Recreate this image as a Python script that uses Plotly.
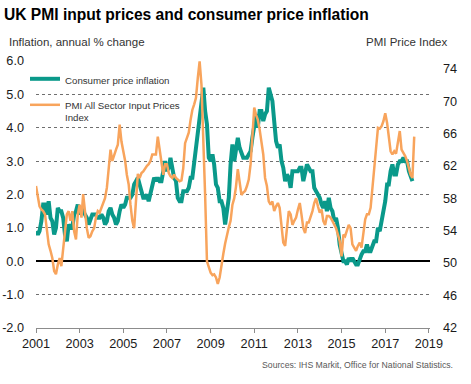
import pandas as pd
import plotly.graph_objects as go

# ---------------- data ----------------
start_month = "2001-01-01"

# UK CPI inflation, annual % change (monthly, Jan 2001 - Apr 2018)
cpi_inflation = [
    0.9, 0.8, 0.9, 1.2, 1.7, 1.7, 1.4, 1.8, 1.3, 1.2, 0.8, 1.0,   # 2001
    1.6, 1.5, 1.5, 1.3, 0.8, 0.6, 1.1, 1.0, 1.0, 1.4, 1.5, 1.7,   # 2002
    1.4, 1.6, 1.5, 1.4, 1.3, 1.1, 1.3, 1.4, 1.4, 1.4, 1.3, 1.3,   # 2003
    1.4, 1.3, 1.1, 1.2, 1.5, 1.6, 1.4, 1.3, 1.1, 1.2, 1.5, 1.7,   # 2004
    1.6, 1.7, 1.9, 1.9, 1.9, 2.0, 2.3, 2.4, 2.5, 2.3, 2.1, 1.9,   # 2005
    1.9, 2.0, 1.8, 2.0, 2.2, 2.5, 2.4, 2.5, 2.4, 2.4, 2.7, 3.0,   # 2006
    2.7, 2.8, 3.1, 2.8, 2.5, 2.4, 1.9, 1.8, 1.8, 2.1, 2.1, 2.1,   # 2007
    2.2, 2.5, 2.5, 3.0, 3.3, 3.8, 4.4, 4.7, 5.2, 4.5, 4.1, 3.1,   # 2008
    3.0, 3.2, 2.9, 2.3, 2.2, 1.8, 1.8, 1.6, 1.1, 1.5, 1.9, 2.9,   # 2009
    3.5, 3.0, 3.4, 3.7, 3.4, 3.2, 3.1, 3.1, 3.1, 3.2, 3.3, 3.7,   # 2010
    4.0, 4.4, 4.0, 4.5, 4.5, 4.2, 4.4, 4.5, 5.2, 5.0, 4.8, 4.2,   # 2011
    3.6, 3.4, 3.5, 3.0, 2.8, 2.4, 2.6, 2.5, 2.2, 2.7, 2.7, 2.7,   # 2012
    2.7, 2.8, 2.8, 2.4, 2.7, 2.9, 2.8, 2.7, 2.7, 2.2, 2.1, 2.0,   # 2013
    1.9, 1.7, 1.6, 1.8, 1.5, 1.9, 1.6, 1.5, 1.2, 1.3, 1.0, 0.5,   # 2014
    0.3, 0.0, 0.0, -0.1, 0.1, 0.0, 0.1, 0.0, -0.1, -0.1, 0.1, 0.2,  # 2015
    0.3, 0.3, 0.5, 0.3, 0.3, 0.5, 0.6, 0.6, 1.0, 0.9, 1.2, 1.6,   # 2016
    1.8, 2.3, 2.3, 2.7, 2.9, 2.6, 2.6, 2.9, 3.0, 3.0, 3.1, 3.0,   # 2017
    3.0, 2.7, 2.5, 2.4,                                           # 2018
]

# PMI All Sector Input Prices Index (monthly, Jan 2001 - May 2018)
pmi_input_prices = [
    59.5, 58.4, 57.0, 56.6, 56.4, 56.0, 54.1, 52.3, 51.5, 50.6, 49.0, 48.6,  # 2001
    49.8, 50.6, 49.6, 51.9, 54.3, 56.0, 56.4, 55.2, 56.4, 53.9, 52.9, 56.0,  # 2002
    57.2, 55.6, 58.5, 56.4, 54.3, 53.1, 53.3, 53.9, 54.3, 55.6, 56.4, 56.2,  # 2003
    56.8, 57.6, 58.0, 59.3, 62.2, 64.0, 62.6, 63.4, 64.0, 64.6, 67.1, 65.0,  # 2004
    64.0, 62.6, 60.9, 59.7, 57.2, 55.2, 54.3, 58.4, 61.0, 60.5, 61.1, 61.3,  # 2005
    61.7, 62.0, 62.2, 62.6, 63.4, 63.4, 63.4, 65.6, 64.0, 62.2, 60.9, 62.2,  # 2006
    62.2, 61.1, 60.7, 60.5, 60.9, 60.5, 60.3, 60.1, 60.2, 61.7, 64.8, 65.4,  # 2007
    66.1, 67.7, 68.9, 69.6, 70.4, 72.9, 74.9, 72.0, 65.9, 58.4, 50.2, 49.4,  # 2008
    48.8, 48.5, 48.6, 48.2, 47.4, 48.2, 49.9, 51.1, 52.4, 53.6, 54.4, 55.2,  # 2009
    57.2, 58.0, 59.4, 61.6, 59.7, 58.4, 58.7, 58.9, 59.5, 60.3, 62.2, 65.4,  # 2010
    69.2, 68.3, 67.7, 66.5, 65.0, 63.4, 60.5, 59.5, 57.6, 57.2, 57.6, 56.4,  # 2011
    57.0, 57.4, 56.8, 54.3, 52.5, 52.1, 54.7, 56.4, 56.0, 54.7, 55.2, 55.6,  # 2012
    56.6, 57.4, 56.0, 54.3, 53.7, 55.0, 55.0, 55.6, 56.4, 57.4, 58.0, 57.0,  # 2013
    56.2, 56.6, 55.2, 54.7, 55.8, 55.8, 55.6, 55.2, 54.7, 54.3, 53.5, 52.7,  # 2014
    50.8, 53.5, 53.3, 54.1, 54.7, 54.3, 52.3, 51.9, 51.5, 52.1, 52.5, 51.9,  # 2015
    53.5, 55.4, 56.0, 56.0, 56.8, 58.9, 61.7, 64.2, 66.7, 66.6, 66.9, 67.5,  # 2016
    68.5, 67.3, 65.2, 63.8, 63.4, 63.8, 63.5, 65.0, 66.3, 64.0, 63.6, 63.2,  # 2017
    62.6, 61.7, 60.9, 60.5, 65.6,                                            # 2018
]

year_ticks = [2001, 2003, 2005, 2007, 2009, 2011, 2013, 2015, 2017, 2019]
left_ticks = [-2, -1, 0, 1, 2, 3, 4, 5, 6]
right_ticks = [42, 46, 50, 54, 58, 62, 66, 70, 74]

series_names = ["Consumer price inflation", "PMI All Sector Input Prices<br>Index"]
title_text = "UK PMI input prices and consumer price inflation"
left_axis_title = "Inflation, annual % change"
right_axis_title = "PMI Price Index"
source_text = "Sources: IHS Markit, Office for National Statistics."

# ---------------- figure ----------------
TEAL = "#0A998A"
ORANGE = "#F8A45C"
FONT = "Liberation Sans, Arial, sans-serif"

cpi_dates = pd.date_range(start_month, periods=len(cpi_inflation), freq="MS")
pmi_dates = pd.date_range(start_month, periods=len(pmi_input_prices), freq="MS")

W, H = 471, 384
PLOT_L, PLOT_R, PLOT_T, PLOT_B = 36, 430, 61, 328
ML, MR, MT, MB = PLOT_L, W - PLOT_R, PLOT_T, H - PLOT_B
PW, PH = PLOT_R - PLOT_L, PLOT_B - PLOT_T


def px(x):
    return (x - PLOT_L) / PW


def py(y):
    return (PLOT_B - y) / PH


fig = go.Figure()
fig.add_trace(go.Scatter(
    x=cpi_dates, y=cpi_inflation, name=series_names[0], mode="lines",
    line=dict(color=TEAL, width=4), yaxis="y", legendgroup="cpi",
))
fig.add_trace(go.Scatter(
    x=pmi_dates, y=pmi_input_prices, name=series_names[1], mode="lines",
    line=dict(color=ORANGE, width=2.5), yaxis="y2", legendgroup="pmi",
))

tick_font = dict(family=FONT, size=12.7, color="#1a1a1a")

fig.update_layout(
    width=W, height=H,
    margin=dict(l=ML, r=MR, t=MT, b=MB, autoexpand=False),
    paper_bgcolor="white", plot_bgcolor="white",
    font=dict(family=FONT, color="#222"),
    showlegend=True,
    legend=dict(
        xref="container", yref="container",
        x=25 / W, y=1 - 66 / H, xanchor="left", yanchor="top",
        bgcolor="rgba(0,0,0,0)", borderwidth=0,
        font=dict(family=FONT, size=9.7, color="#333"),
        valign="top", tracegroupgap=7,
    ),
    xaxis=dict(
        type="date",
        range=["2001-01-01", "2019-01-20"],
        tickvals=[f"{y}-01-01" for y in year_ticks],
        ticktext=[str(y) for y in year_ticks],
        showgrid=False, zeroline=False,
        showline=True, linecolor="#8c8c8c", linewidth=1,
        ticks="outside", ticklen=4, tickcolor="#8c8c8c", tickwidth=1,
        tickfont=tick_font, automargin=False,
    ),
    yaxis=dict(
        range=[-2, 6],
        tickvals=left_ticks,
        ticktext=[f"{v:.1f}" for v in left_ticks],
        showgrid=True, gridcolor="#6f6f6f", gridwidth=1, griddash="dot",
        zeroline=True, zerolinecolor="black", zerolinewidth=2,
        showline=False, ticks="",
        tickfont=tick_font, automargin=False,
        ticklabelstandoff=11,
    ),
    yaxis2=dict(
        overlaying="y", side="right",
        range=[41.96, 74.95],
        tickvals=right_ticks,
        ticktext=[str(v) for v in right_ticks],
        showgrid=False, zeroline=False, showline=False, ticks="",
        tickfont=tick_font, automargin=False,
        ticklabelstandoff=12,
    ),
)

annotations = [
    dict(text=f"<b>{title_text}</b>", x=px(2), y=py(14), xanchor="left",
         yanchor="middle", font=dict(family=FONT, size=15.6, color="black")),
    dict(text=left_axis_title, x=px(6.5), y=py(42), xanchor="left",
         yanchor="middle", font=dict(family=FONT, size=11.5, color="#333")),
    dict(text=right_axis_title, x=px(448.5), y=py(42), xanchor="right",
         yanchor="middle", font=dict(family=FONT, size=11.5, color="#333")),
    dict(text=source_text, x=px(455), y=py(365), xanchor="right",
         yanchor="middle", font=dict(family=FONT, size=8.7, color="#595959")),
]
for a in annotations:
    a.update(xref="paper", yref="paper", showarrow=False)
fig.update_layout(annotations=annotations)

# remove the default 8px page margin so the figure sits at the window origin
fig.write_html(
    "out.html",
    config={"displayModeBar": False},
    post_script="document.body.style.margin='0px';",
)
